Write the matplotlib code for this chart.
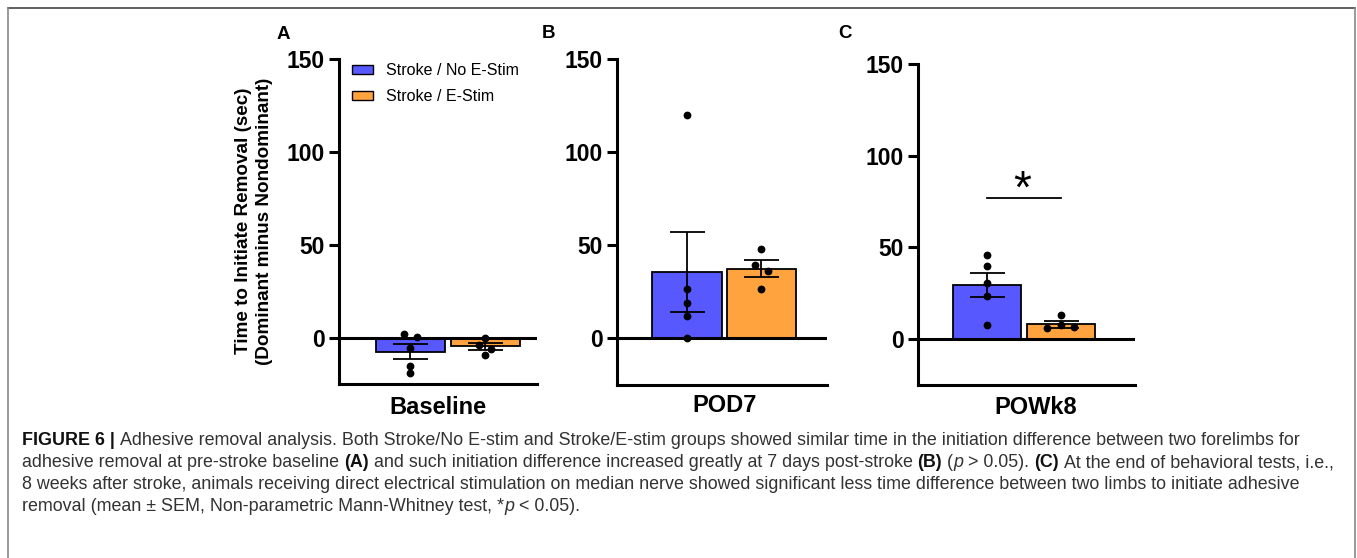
import matplotlib
matplotlib.use("Agg")
import matplotlib.pyplot as plt
import numpy as np
from matplotlib import font_manager
from matplotlib.lines import Line2D
from matplotlib.patches import Patch

# ---------------- data ----------------
categories = ["Baseline", "POD7", "POWk8"]
panel_letters = ["A", "B", "C"]
groups = ["Stroke / No E-Stim", "Stroke / E-Stim"]

noestim_mean = [-7.5, 35.5, 29.5]
noestim_sem = [4.3, 21.5, 6.6]
estim_mean = [-4.8, 37.5, 8.0]
estim_sem = [2.0, 4.5, 1.9]

noestim_points = [[1.8, 0.5, -5.4, -15.4, -19.0],
                  [120.0, 26.5, 18.8, 12.2, 0.0],
                  [45.8, 40.0, 30.8, 23.4, 7.5]]
estim_points = [[-0.4, -4.1, -6.1, -9.5],
                [48.2, 39.2, 36.2, 26.3],
                [13.0, 7.5, 5.9, 6.6]]

yticks = [0, 50, 100, 150]
sig_label = "*"
sig_height = 77

# ---------------- style / layout (not data) ----------------
noestim_jitter = [[-0.09, 0.09, 0, 0, 0], [0, 0, 0, 0, 0], [0, 0, 0, 0, 0]]
estim_jitter = [[0, -0.08, 0.08, 0], [0, -0.09, 0.09, 0], [0, 0, -0.18, 0.18]]

BLUE = "#5858FF"
ORANGE = "#FFA33F"

plt.rcParams["font.family"] = ["Liberation Sans", "DejaVu Sans"]

W, H = 1357, 558
fig = plt.figure(figsize=(W / 100, H / 100), dpi=100)

def fx(x):
    return x / W

def fy(y):
    return 1 - y / H

# axes boxes in pixels (left, top, right, bottom)
boxes = [(339, 59, 537, 384), (617, 59, 827, 385), (918, 64, 1135, 385)]
xlims = [(-0.953, 1.687), (-0.94, 1.88), (-0.94, 2.01)]
xlabel_pos = [(438, 407), (725, 406), (1036, 407)]
letter_pos = [(283.5, 34.5), (548.5, 33.5), (845, 34)]

axes = []
for i, (l, t, r, b) in enumerate(boxes):
    ax = fig.add_axes([fx(l), fy(b), fx(r - l), (b - t) / H])
    axes.append(ax)
    ax.set_xlim(*xlims[i])
    ax.set_ylim(-25, 150)
    for s in ["top", "right"]:
        ax.spines[s].set_visible(False)
    for s in ["left", "bottom"]:
        ax.spines[s].set_linewidth(2.2)
    ax.set_xticks([])
    ax.set_yticks(yticks)
    ax.tick_params(axis="y", length=7, width=2.2, pad=3.5, labelsize=16.5)
    for lab in ax.get_yticklabels():
        lab.set_fontweight("bold")

    x0, x1 = 0, 1
    ax.bar([x0], [noestim_mean[i]], width=0.93, color=BLUE, edgecolor="black",
           linewidth=1.3, zorder=2)
    ax.bar([x1], [estim_mean[i]], width=0.93, color=ORANGE, edgecolor="black",
           linewidth=1.3, zorder=2)
    ax.axhline(0, color="black", lw=2.2, zorder=3)
    ax.errorbar([x0], [noestim_mean[i]], yerr=[noestim_sem[i]], fmt="none",
                ecolor="black", elinewidth=1.3, capsize=12.6, capthick=1.3, zorder=4)
    ax.errorbar([x1], [estim_mean[i]], yerr=[estim_sem[i]], fmt="none",
                ecolor="black", elinewidth=1.3, capsize=12.6, capthick=1.3, zorder=4)
    ax.plot(x0 + np.array(noestim_jitter[i]), noestim_points[i], "o", color="black",
            ms=4.6, zorder=5, clip_on=False)
    ax.plot(x1 + np.array(estim_jitter[i]), estim_points[i], "o", color="black",
            ms=4.6, zorder=5, clip_on=False)

    fig.text(fx(xlabel_pos[i][0]), fy(xlabel_pos[i][1]), categories[i],
             ha="center", va="center", fontsize=17, fontweight="bold")
    fig.text(fx(letter_pos[i][0]), fy(letter_pos[i][1]), panel_letters[i],
             ha="center", va="center", fontsize=13.5, fontweight="bold")

# significance bar in panel C
axC = axes[2]
axC.plot([0, 1], [sig_height, sig_height], color="black", lw=1.3, zorder=4)
axC.text(0.47, sig_height - 8, sig_label, ha="center", va="bottom", fontsize=33)

# legend in panel A
handles = [Patch(facecolor=BLUE, edgecolor="black", linewidth=1.0, label=groups[0]),
           Patch(facecolor=ORANGE, edgecolor="black", linewidth=1.0, label=groups[1])]
leg = axes[0].legend(handles=handles, loc="upper left",
                     bbox_to_anchor=(fx(352), fy(63)), bbox_transform=fig.transFigure,
                     frameon=False, fontsize=11.5, handlelength=1.3, handleheight=0.5,
                     handletextpad=0.8, labelspacing=0.7, borderpad=0, borderaxespad=0)

# y label (two lines)
fig.text(fx(254), fy(221), "Time to Initiate Removal (sec)\n(Dominant minus Nondominant)",
         rotation=90, ha="center", va="center", fontsize=13.6, fontweight="bold",
         linespacing=1.3, multialignment="center")

# ---------------- border ----------------
fig.add_artist(Line2D([fx(8), fx(1355)], [fy(8), fy(8)], color="#444444", lw=1.2))
fig.add_artist(Line2D([fx(8), fx(8)], [fy(8), fy(560)], color="#888888", lw=1.2))
fig.add_artist(Line2D([fx(1355), fx(1355)], [fy(8), fy(560)], color="#888888", lw=1.2))

# ---------------- caption ----------------
names = {f.name for f in font_manager.fontManager.ttflist}
cap_family = "Liberation Sans Narrow" if "Liberation Sans Narrow" in names else "Liberation Sans"
CAPC = "#333333"

cap_lines = [
    [("FIGURE 6 |", "bold", "normal", "#111111", 1),
     ("Adhesive removal analysis. Both Stroke/No E-stim and Stroke/E-stim groups showed similar time in the initiation difference between two forelimbs for", "normal", "normal", CAPC, 0)],
    [("adhesive removal at pre-stroke baseline", "normal", "normal", CAPC, 1),
     ("(A)", "bold", "normal", "#111111", 1),
     ("and such initiation difference increased greatly at 7 days post-stroke", "normal", "normal", CAPC, 1),
     ("(B)", "bold", "normal", "#111111", 1),
     ("(", "normal", "normal", CAPC, 0),
     ("p", "normal", "italic", CAPC, 1),
     ("> 0.05).", "normal", "normal", CAPC, 1),
     ("(C)", "bold", "normal", "#111111", 1),
     ("At the end of behavioral tests, i.e.,", "normal", "normal", CAPC, 0)],
    [("8 weeks after stroke, animals receiving direct electrical stimulation on median nerve showed significant less time difference between two limbs to initiate adhesive", "normal", "normal", CAPC, 0)],
    [("removal (mean \u00b1 SEM, Non-parametric Mann-Whitney test, *", "normal", "normal", CAPC, 0),
     ("p", "normal", "italic", CAPC, 1),
     ("< 0.05).", "normal", "normal", CAPC, 0)],
]
baselines = [445, 467, 489, 511]

renderer = fig.canvas.get_renderer()

def measure(txt, size, weight="normal", style="normal"):
    t = fig.text(0, 0, txt, fontsize=size, fontweight=weight, fontstyle=style,
                 family=cap_family)
    w = t.get_window_extent(renderer).width
    t.remove()
    return w

def line_width(segs, size):
    sp = measure("x x", size) - measure("xx", size)
    total = 0
    for txt, wt, st, col, nsp in segs:
        total += measure(txt, size, wt, st) + nsp * sp
    return total

base = 10.0
target = 1340 - 22
size = base * target / line_width(cap_lines[1], base)

sp = measure("x x", size) - measure("xx", size)
for segs, yb in zip(cap_lines, baselines):
    x = 22
    for txt, wt, st, col, nsp in segs:
        t = fig.text(fx(x), fy(yb), txt, fontsize=size, fontweight=wt, fontstyle=st,
                     family=cap_family, color=col, ha="left", va="baseline")
        x += t.get_window_extent(renderer).width + nsp * sp

fig.savefig("out.png", dpi=100)
